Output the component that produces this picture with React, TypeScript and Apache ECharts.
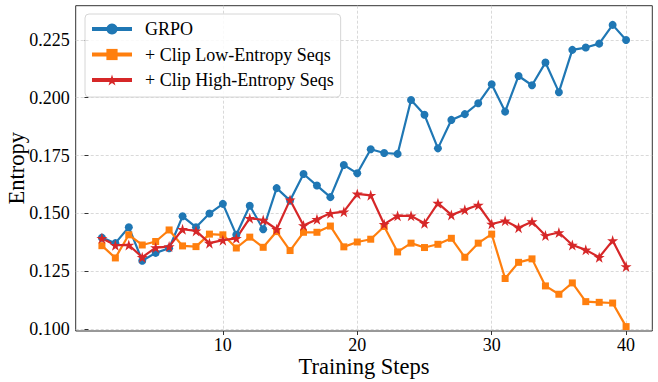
import React, { useEffect, useRef } from "react";
import * as echarts from "echarts";

const steps = Array.from({ length: 40 }, (_, i) => i + 1);

const grpo = [
  0.1395, 0.1371, 0.144, 0.1295, 0.1329, 0.1349, 0.1487, 0.144, 0.1499, 0.1541,
  0.1407, 0.1533, 0.1431, 0.1609, 0.1555, 0.167, 0.162, 0.157, 0.1709, 0.1673,
  0.1777, 0.1761, 0.1757, 0.199, 0.1926, 0.1781, 0.1904, 0.1929, 0.1976, 0.2058,
  0.194, 0.2094, 0.2054, 0.2152, 0.2024, 0.2207, 0.2217, 0.2234, 0.2315, 0.225,
];

const clipLow = [
  0.136, 0.1307, 0.1407, 0.1363, 0.1378, 0.1428, 0.1359, 0.1356, 0.141, 0.1407,
  0.135, 0.1397, 0.1353, 0.1421, 0.1339, 0.1418, 0.1418, 0.1445, 0.1355, 0.1376,
  0.1388, 0.1443, 0.1333, 0.1371, 0.1352, 0.1366, 0.1392, 0.131, 0.1371, 0.141,
  0.1218, 0.1288, 0.1303, 0.1186, 0.115, 0.1199, 0.1118, 0.1115, 0.1112, 0.101,
];

const clipHigh = [
  0.1392, 0.1362, 0.1363, 0.131, 0.1352, 0.1356, 0.1431, 0.1424, 0.1371, 0.1384,
  0.1392, 0.1479, 0.1471, 0.1431, 0.1558, 0.1447, 0.1474, 0.15, 0.1507, 0.1584,
  0.1578, 0.1453, 0.1489, 0.1489, 0.1457, 0.1544, 0.1493, 0.1515, 0.1536, 0.1454,
  0.1468, 0.1438, 0.1464, 0.1404, 0.1417, 0.1363, 0.1342, 0.131, 0.1382, 0.127,
];

const xTicks = [10, 20, 30, 40];
const yTicks = [0.1, 0.125, 0.15, 0.175, 0.2, 0.225];

const seriesNames = ["GRPO", "+ Clip Low-Entropy Seqs", "+ Clip High-Entropy Seqs"];
const colors = ["#1f77b4", "#ff7f0e", "#d62728"];

const STAR =
  "path://M0,-100 L22.45,-30.9 L95.1,-30.9 L36.33,11.8 L58.8,80.9 L0,38.2 L-58.8,80.9 L-36.33,11.8 L-95.1,-30.9 L-22.45,-30.9 Z";

const FONT = "'Liberation Serif', 'Times New Roman', serif";

export default function App() {
  const ref = useRef<HTMLDivElement>(null);

  useEffect(() => {
    if (!ref.current) return;
    const chart = echarts.init(ref.current, undefined, { renderer: "svg" });
    const mk = (name: string, vals: number[], color: string, symbol: string, size: number) => ({
      name,
      type: "line",
      data: steps.map((s, i) => [s, vals[i]]),
      symbol,
      symbolSize: size,
      showAllSymbol: true,
      lineStyle: { color, width: 2.2 },
      itemStyle: { color, borderWidth: 0 },
      emphasis: { disabled: true },
    });
    chart.setOption({
      animation: false,
      textStyle: { fontFamily: FONT },
      grid: {
        left: 75.7,
        right: 5.7,
        top: 5.7,
        bottom: 51,
        containLabel: false,
        outerBoundsMode: "none",
        show: true,
        borderColor: "#333",
        borderWidth: 1,
        backgroundColor: "transparent",
      },
      legend: {
        orient: "vertical",
        left: 85,
        top: 14,
        data: seriesNames,
        itemWidth: 40,
        itemHeight: 14,
        itemGap: 7.5,
        padding: [6, 7, 8, 5],
        borderColor: "#d6d6d6",
        borderWidth: 1,
        borderRadius: 4,
        backgroundColor: "rgba(255,255,255,0.85)",
        lineStyle: { width: 4 },
        textStyle: {
          fontFamily: FONT,
          fontSize: 18,
          color: "#000",
          lineHeight: 18,
          padding: [0, 0, 0, 8],
        },
      },
      xAxis: {
        type: "value",
        min: -0.95,
        max: 41.95,
        name: "Training Steps",
        nameLocation: "middle",
        nameGap: 24,
        nameMoveOverlap: false,
        nameTextStyle: { fontFamily: FONT, fontSize: 22.5, color: "#000" },
        axisLine: { show: false },
        axisTick: {
          show: true,
          length: 4,
          inside: false,
          customValues: xTicks,
          lineStyle: { color: "#333", width: 1 },
        },
        axisLabel: {
          customValues: xTicks,
          fontFamily: FONT,
          fontSize: 18,
          color: "#000",
          margin: 5,
        },
        splitLine: {
          show: true,
          lineStyle: { color: "#cfcfcf", width: 0.8, type: [3, 2] },
        },
      },
      yAxis: {
        type: "value",
        min: 0.0991,
        max: 0.2398,
        name: "Entropy",
        nameLocation: "middle",
        nameGap: 48,
        nameMoveOverlap: false,
        nameTextStyle: { fontFamily: FONT, fontSize: 22.5, color: "#000" },
        axisLine: { show: false },
        axisTick: {
          show: true,
          length: 4,
          customValues: yTicks,
          lineStyle: { color: "#333", width: 1 },
        },
        axisLabel: {
          customValues: yTicks,
          fontFamily: FONT,
          fontSize: 18,
          color: "#000",
          margin: 6,
          formatter: (v: number) => v.toFixed(3),
        },
        splitLine: {
          show: true,
          lineStyle: { color: "#cfcfcf", width: 0.8, type: [3, 2] },
        },
      },
      series: [
        mk(seriesNames[0], grpo, colors[0], "circle", 8),
        mk(seriesNames[1], clipLow, colors[1], "rect", 7),
        mk(seriesNames[2], clipHigh, colors[2], STAR, 11),
      ],
    });
    return () => chart.dispose();
  }, []);

  return (
    <div
      ref={ref}
      style={{ position: "absolute", left: 0, top: 0, width: 658, height: 382 }}
    />
  );
}
